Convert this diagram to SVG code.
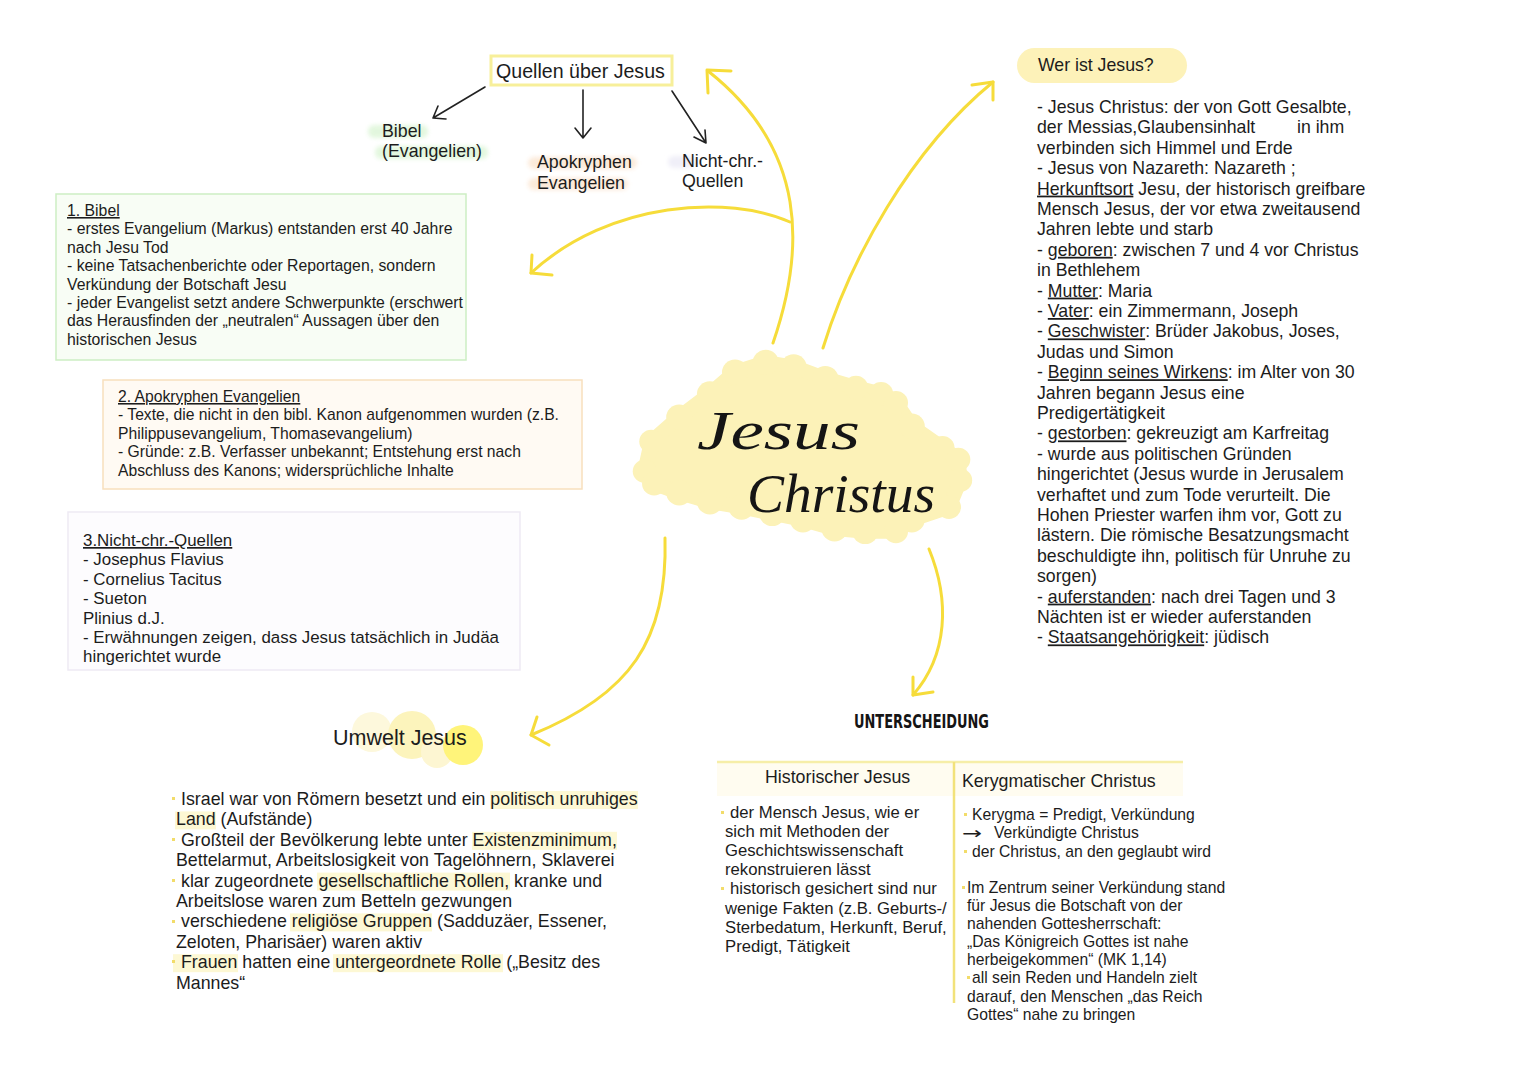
<svg xmlns="http://www.w3.org/2000/svg" width="1527" height="1080" viewBox="0 0 1527 1080">
<defs>
<style>
text{font-family:"Liberation Sans",Arial,sans-serif;fill:#1c1c1c;}
.u{text-decoration:underline;}
.b1{font-size:15.8px;}
.b2{font-size:15.7px;}
.b3{font-size:16.9px;}
.rc{font-size:17.7px;}
.um{font-size:17.8px;}
.tl{font-size:16.7px;}
.tr{font-size:15.7px;}
.th{font-size:17.8px;}
.lbl{font-size:17.8px;}
.ya{fill:none;stroke:#f6dc3a;stroke-width:3;stroke-linecap:round;stroke-linejoin:round;}
.ba{fill:none;stroke:#222;stroke-width:1.6;stroke-linecap:round;stroke-linejoin:round;}
.hl{fill:#fdf8d4;}
.dot{fill:#f2dc6a;}
.jc{font-family:"Liberation Serif",serif;font-style:italic;fill:#151515;font-size:54px;}
</style>
<filter id="soft" x="-20%" y="-50%" width="140%" height="200%"><feGaussianBlur stdDeviation="2"/></filter>
</defs>
<rect width="1527" height="1080" fill="#ffffff"/>

<g id="connectors">
<path class="ba" d="M485,87 L433,118 M433,118 L438,106 M433,118 L446,119"/>
<path class="ba" d="M583,90 L583,138 M575,128 L583,138 L591,128"/>
<path class="ba" d="M672,91 L706,143 M694,137 L706,143 L705,130"/>
<path class="ya" d="M773,343 C805,250 808,150 708,71"/>
<path class="ya" d="M731,71 L707,70 L708,93"/>
<path class="ya" d="M790,222 C730,195 610,200 531,273"/>
<path class="ya" d="M552,275 L531,273 L532,255"/>
<path class="ya" d="M823,348 C850,260 910,150 993,82"/>
<path class="ya" d="M972,85 L993,82 L993,100"/>
<path class="ya" d="M665,538 C668,640 630,695 531,735"/>
<path class="ya" d="M537,717 L531,735 L549,745"/>
<path class="ya" d="M929,549 C950,600 948,655 913,695"/>
<path class="ya" d="M913,677 L913,695 L933,692"/>
</g>

<g id="quellen">
<rect x="491" y="56" width="181" height="29" fill="#fff" stroke="#f7ef9a" stroke-width="3"/>
<text x="496" y="78" style="font-size:19.6px">Quellen über Jesus</text>
</g>

<g id="bibel-label">
<g filter="url(#soft)" opacity="0.8">
<rect x="368" y="125" width="60" height="13" rx="6" fill="#dcf5d6"/>
<rect x="375" y="146" width="113" height="13" rx="6" fill="#dcf5d6"/>
</g>
<text class="lbl" x="382" y="137">Bibel</text>
<text class="lbl" x="382" y="157">(Evangelien)</text>
</g>

<g id="apokryphen-label">
<g filter="url(#soft)" opacity="0.8">
<rect x="528" y="157" width="109" height="12" rx="6" fill="#fbe5d0"/>
<rect x="528" y="178" width="100" height="12" rx="6" fill="#fbe5d0"/>
</g>
<text class="lbl" x="537" y="168">Apokryphen</text>
<text class="lbl" x="537" y="189">Evangelien</text>
</g>

<g id="nichtchr-label">
<rect x="668" y="156" width="28" height="12" rx="6" fill="#f0eff8" filter="url(#soft)"/>
<text class="lbl" x="682" y="167">Nicht-chr.-</text>
<text class="lbl" x="682" y="187">Quellen</text>
</g>

<g id="box-bibel">
<rect x="56" y="194" width="410" height="166" fill="#f8fdf5" stroke="#cdeec3" stroke-width="1.5"/>
<text class="b1" x="67" y="216"><tspan class="u">1. Bibel</tspan></text>
<text class="b1" x="67" y="234.4">- erstes Evangelium (Markus) entstanden erst 40 Jahre</text>
<text class="b1" x="67" y="252.8">nach Jesu Tod</text>
<text class="b1" x="67" y="271.2">- keine Tatsachenberichte oder Reportagen, sondern</text>
<text class="b1" x="67" y="289.6">Verkündung der Botschaft Jesu</text>
<text class="b1" x="67" y="308">- jeder Evangelist setzt andere Schwerpunkte (erschwert</text>
<text class="b1" x="67" y="326.4">das Herausfinden der „neutralen“ Aussagen über den</text>
<text class="b1" x="67" y="344.8">historischen Jesus</text>
</g>

<g id="box-apokryphen">
<rect x="103" y="380" width="479" height="109" fill="#fffaf3" stroke="#f8dfbd" stroke-width="1.5"/>
<text class="b2" x="118" y="402"><tspan class="u">2. Apokryphen Evangelien</tspan></text>
<text class="b2" x="118" y="420.4">- Texte, die nicht in den bibl. Kanon aufgenommen wurden (z.B.</text>
<text class="b2" x="118" y="438.8">Philippusevangelium, Thomasevangelium)</text>
<text class="b2" x="118" y="457.2">- Gründe: z.B. Verfasser unbekannt; Entstehung erst nach</text>
<text class="b2" x="118" y="475.6">Abschluss des Kanons; widersprüchliche Inhalte</text>
</g>

<g id="box-nichtchr">
<rect x="68" y="512" width="452" height="158" fill="#fdfcfe" stroke="#eeeaf4" stroke-width="1.5"/>
<text class="b3" x="83" y="546"><tspan class="u">3.Nicht-chr.-Quellen</tspan></text>
<text class="b3" x="83" y="565.4">- Josephus Flavius</text>
<text class="b3" x="83" y="584.8">- Cornelius Tacitus</text>
<text class="b3" x="83" y="604.2">- Sueton</text>
<text class="b3" x="83" y="623.6">Plinius d.J.</text>
<text class="b3" x="83" y="643">- Erwähnungen zeigen, dass Jesus tatsächlich in Judäa</text>
<text class="b3" x="83" y="662.4">hingerichtet wurde</text>
</g>

<g id="center">
<g transform="translate(802 455) scale(0.93 0.9) translate(-802 -455)" fill="#fcf2b8">
<polygon points="633,473 640,440 670,413 703,387 730,363 763,352 793,357 827,370 860,380 887,387 903,397 920,423 953,447 970,460 972,483 960,513 920,527 903,540 870,540 837,537 803,527 770,520 737,513 703,507 670,497 643,487" stroke="#fcf2b8" stroke-width="16" stroke-linejoin="round"/>
<circle cx="633" cy="473" r="13"/><circle cx="640" cy="440" r="13"/><circle cx="670" cy="413" r="14"/><circle cx="703" cy="387" r="14"/><circle cx="730" cy="363" r="14"/><circle cx="763" cy="352" r="14"/><circle cx="793" cy="357" r="14"/><circle cx="827" cy="370" r="14"/><circle cx="860" cy="380" r="13"/><circle cx="887" cy="387" r="13"/><circle cx="903" cy="397" r="13"/><circle cx="920" cy="423" r="14"/><circle cx="953" cy="447" r="13"/><circle cx="970" cy="460" r="13"/><circle cx="972" cy="483" r="13"/><circle cx="960" cy="513" r="13"/><circle cx="920" cy="527" r="14"/><circle cx="903" cy="540" r="13"/><circle cx="870" cy="540" r="14"/><circle cx="837" cy="537" r="14"/><circle cx="803" cy="527" r="14"/><circle cx="770" cy="520" r="14"/><circle cx="737" cy="513" r="14"/><circle cx="703" cy="507" r="14"/><circle cx="670" cy="497" r="14"/><circle cx="643" cy="487" r="13"/>
</g>
<text class="jc" x="697" y="449" textLength="163" lengthAdjust="spacingAndGlyphs">Jesus</text>
<text class="jc" x="747" y="512" textLength="188" lengthAdjust="spacingAndGlyphs">Christus</text>
</g>

<g id="wer-ist-jesus">
<rect x="1017" y="48" width="170" height="35" rx="17.5" fill="#fdf2b9"/>
<text x="1038" y="71" style="font-size:17.7px">Wer ist Jesus?</text>
<text class="rc" x="1037" y="113">- Jesus Christus: der von Gott Gesalbte,</text>
<text class="rc" x="1037" y="133.4">der Messias,Glaubensinhalt<tspan x="1297">in ihm</tspan></text>
<text class="rc" x="1037" y="153.8">verbinden sich Himmel und Erde</text>
<text class="rc" x="1037" y="174.2">- Jesus von Nazareth: Nazareth ;</text>
<text class="rc" x="1037" y="194.6"><tspan class="u">Herkunftsort</tspan> Jesu, der historisch greifbare</text>
<text class="rc" x="1037" y="215">Mensch Jesus, der vor etwa zweitausend</text>
<text class="rc" x="1037" y="235.4">Jahren lebte und starb</text>
<text class="rc" x="1037" y="255.8">- <tspan class="u">geboren</tspan>: zwischen 7 und 4 vor Christus</text>
<text class="rc" x="1037" y="276.2">in Bethlehem</text>
<text class="rc" x="1037" y="296.6">- <tspan class="u">Mutter</tspan>: Maria</text>
<text class="rc" x="1037" y="317">- <tspan class="u">Vater</tspan>: ein Zimmermann, Joseph</text>
<text class="rc" x="1037" y="337.4">- <tspan class="u">Geschwister</tspan>: Brüder Jakobus, Joses,</text>
<text class="rc" x="1037" y="357.8">Judas und Simon</text>
<text class="rc" x="1037" y="378.2">- <tspan class="u">Beginn seines Wirkens</tspan>: im Alter von 30</text>
<text class="rc" x="1037" y="398.6">Jahren begann Jesus eine</text>
<text class="rc" x="1037" y="419">Predigertätigkeit</text>
<text class="rc" x="1037" y="439.4">- <tspan class="u">gestorben</tspan>: gekreuzigt am Karfreitag</text>
<text class="rc" x="1037" y="459.8">- wurde aus politischen Gründen</text>
<text class="rc" x="1037" y="480.2">hingerichtet (Jesus wurde in Jerusalem</text>
<text class="rc" x="1037" y="500.6">verhaftet und zum Tode verurteilt. Die</text>
<text class="rc" x="1037" y="521">Hohen Priester warfen ihm vor, Gott zu</text>
<text class="rc" x="1037" y="541.4">lästern. Die römische Besatzungsmacht</text>
<text class="rc" x="1037" y="561.8">beschuldigte ihn, politisch für Unruhe zu</text>
<text class="rc" x="1037" y="582.2">sorgen)</text>
<text class="rc" x="1037" y="602.6">- <tspan class="u">auferstanden</tspan>: nach drei Tagen und 3</text>
<text class="rc" x="1037" y="623">Nächten ist er wieder auferstanden</text>
<text class="rc" x="1037" y="643.4">- <tspan class="u">Staatsangehörigkeit</tspan>: jüdisch</text>
</g>

<g id="umwelt">
<circle cx="372" cy="732" r="20" fill="#fdf8dc"/>
<circle cx="412" cy="735" r="24" fill="#fcf4bc"/>
<circle cx="437" cy="752" r="16" fill="#fdf6d2"/>
<circle cx="463" cy="745" r="20" fill="#fff47a"/>
<text x="333" y="745" style="font-size:21.5px">Umwelt Jesus</text>
<rect class="hl" x="490" y="791" width="148" height="18"/>
<rect class="hl" x="175" y="811.4" width="41" height="18"/>
<rect class="hl" x="472" y="831.8" width="145" height="18"/>
<rect class="hl" x="317" y="872.6" width="193" height="18"/>
<rect class="hl" x="290" y="913.4" width="142" height="18"/>
<rect class="hl" x="173" y="954.2" width="65" height="18" fill="#fcf1c4"/>
<rect class="hl" x="333" y="954.2" width="170" height="18"/>
<rect class="dot" x="172" y="797" width="3" height="3"/>
<rect class="dot" x="172" y="838" width="3" height="3"/>
<rect class="dot" x="172" y="879" width="3" height="3"/>
<rect class="dot" x="172" y="920" width="3" height="3"/>
<rect class="dot" x="172" y="960" width="3" height="3"/>
<text class="um" x="181" y="805">Israel war von Römern besetzt und ein politisch unruhiges</text>
<text class="um" x="176" y="825.4">Land (Aufstände)</text>
<text class="um" x="181" y="845.8">Großteil der Bevölkerung lebte unter Existenzminimum,</text>
<text class="um" x="176" y="866.2">Bettelarmut, Arbeitslosigkeit von Tagelöhnern, Sklaverei</text>
<text class="um" x="181" y="886.6">klar zugeordnete gesellschaftliche Rollen, kranke und</text>
<text class="um" x="176" y="907">Arbeitslose waren zum Betteln gezwungen</text>
<text class="um" x="181" y="927.4">verschiedene religiöse Gruppen (Sadduzäer, Essener,</text>
<text class="um" x="176" y="947.8">Zeloten, Pharisäer) waren aktiv</text>
<text class="um" x="181" y="968.2">Frauen hatten eine untergeordnete Rolle („Besitz des</text>
<text class="um" x="176" y="988.6">Mannes“</text>
</g>

<g id="unterscheidung">
<text x="854" y="728" textLength="135" lengthAdjust="spacingAndGlyphs" style="font-family:'DejaVu Sans Condensed','DejaVu Sans',sans-serif;font-weight:bold;font-size:20px;fill:#151515">UNTERSCHEIDUNG</text>
<rect x="717" y="762" width="466" height="34" fill="#fffcf0"/>
<line x1="717" y1="762" x2="1183" y2="762" stroke="#f6eea8" stroke-width="2.5"/>
<line x1="954" y1="762" x2="954" y2="1003" stroke="#f2e27a" stroke-width="2.5"/>
<text class="th" x="765" y="783">Historischer Jesus</text>
<text class="th" x="962" y="787">Kerygmatischer Christus</text>
<rect class="dot" x="721" y="811" width="3" height="3"/>
<rect class="dot" x="721" y="887" width="3" height="3"/>
<text class="tl" x="730" y="818">der Mensch Jesus, wie er</text>
<text class="tl" x="725" y="837.1">sich mit Methoden der</text>
<text class="tl" x="725" y="856.2">Geschichtswissenschaft</text>
<text class="tl" x="725" y="875.3">rekonstruieren lässt</text>
<text class="tl" x="730" y="894.4">historisch gesichert sind nur</text>
<text class="tl" x="725" y="913.5">wenige Fakten (z.B. Geburts-/</text>
<text class="tl" x="725" y="932.6">Sterbedatum, Herkunft, Beruf,</text>
<text class="tl" x="725" y="951.7">Predigt, Tätigkeit</text>
<rect class="dot" x="964" y="813" width="3" height="3"/>
<rect class="dot" x="964" y="850" width="3" height="3"/>
<rect class="dot" x="962" y="886" width="3" height="3"/>
<rect class="dot" x="967" y="976" width="3" height="3"/>
<text class="tr" x="972" y="820">Kerygma = Predigt, Verkündung</text>
<text x="962" y="839" textLength="20" lengthAdjust="spacingAndGlyphs" style="font-family:'DejaVu Sans',sans-serif;font-size:17px">→</text>
<text class="tr" x="994" y="838">Verkündigte Christus</text>
<text class="tr" x="972" y="857">der Christus, an den geglaubt wird</text>
<text class="tr" x="967" y="893">Im Zentrum seiner Verkündung stand</text>
<text class="tr" x="967" y="911">für Jesus die Botschaft von der</text>
<text class="tr" x="967" y="929">nahenden Gottesherrschaft:</text>
<text class="tr" x="967" y="947">„Das Königreich Gottes ist nahe</text>
<text class="tr" x="967" y="965">herbeigekommen“ (MK 1,14)</text>
<text class="tr" x="972" y="983">all sein Reden und Handeln zielt</text>
<text class="tr" x="967" y="1002">darauf, den Menschen „das Reich</text>
<text class="tr" x="967" y="1020">Gottes“ nahe zu bringen</text>
</g>
</svg>
